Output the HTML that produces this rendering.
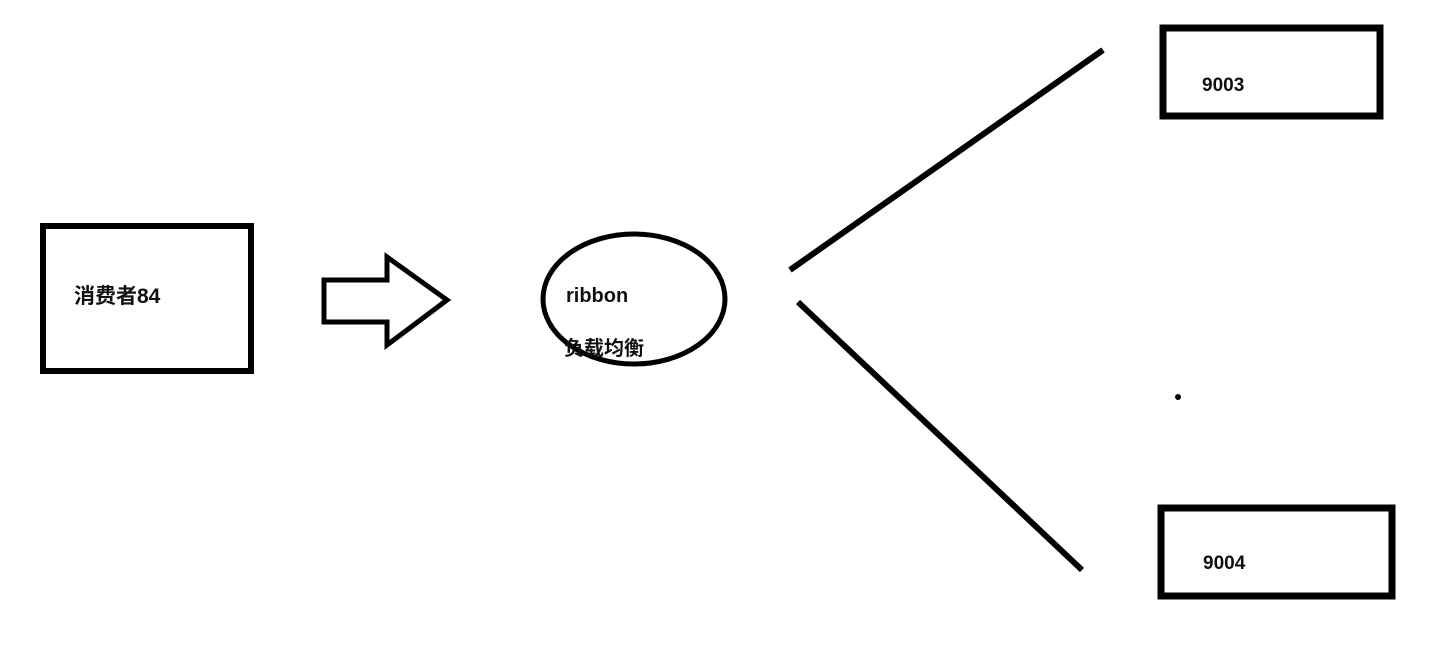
<!DOCTYPE html>
<html><head><meta charset="utf-8"><style>
body{margin:0;background:#fff;}
svg text{font-family:"Liberation Sans","Noto Sans CJK SC",sans-serif;font-weight:bold;fill:#111;}
</style></head><body>
<svg width="1450" height="646" xmlns="http://www.w3.org/2000/svg">
<rect x="0" y="0" width="1450" height="646" fill="#fff"/>
<rect x="43" y="226" width="208" height="145" fill="none" stroke="#000" stroke-width="6"/>
<text x="74" y="303" font-size="21">消费者84</text>
<polygon points="324,280 387,280 387,257 447,300 387,345 387,322 324,322" fill="none" stroke="#000" stroke-width="5" stroke-linejoin="miter"/>
<ellipse cx="634" cy="299" rx="91" ry="65" fill="none" stroke="#000" stroke-width="5"/>
<text x="566" y="302" font-size="20">ribbon</text>
<text x="564" y="355" font-size="20">负载均衡</text>
<line x1="790" y1="270" x2="1103" y2="50" stroke="#000" stroke-width="6"/>
<line x1="798" y1="302" x2="1082" y2="570" stroke="#000" stroke-width="6"/>
<circle cx="1178" cy="397" r="3" fill="#000"/>
<rect x="1163" y="28" width="217" height="88" fill="none" stroke="#000" stroke-width="7"/>
<text x="1202" y="91" font-size="19">9003</text>
<rect x="1161" y="508" width="231" height="88" fill="none" stroke="#000" stroke-width="7"/>
<text x="1203" y="569" font-size="19">9004</text>
</svg>
</body></html>
